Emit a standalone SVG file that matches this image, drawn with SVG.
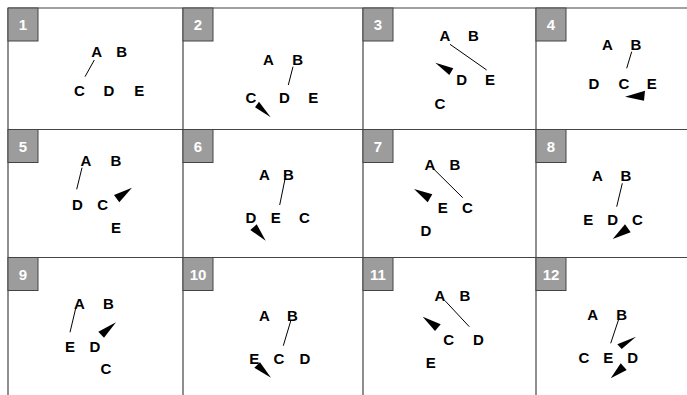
<svg xmlns="http://www.w3.org/2000/svg" width="687" height="395" viewBox="0 0 687 395">
<style>
.grid{stroke:#444;stroke-width:1.2;fill:none}
.tag{fill:#9c9c9c;stroke:#444;stroke-width:1}
.num{font-family:"Liberation Sans",Arial,sans-serif;font-weight:bold;font-size:15px;fill:#fff;text-anchor:middle}
.n{font-family:"Liberation Sans",Arial,sans-serif;font-weight:bold;font-size:15px;fill:#000;text-anchor:middle}
.e{stroke:#000;stroke-width:1;fill:none}
.t{fill:#000;stroke:none}
</style>
<rect width="687" height="395" fill="#fff"/>
<g id="grid">
<path class="grid" d="M8,8H687M8,129.5H687M8,257.5H687M8,8V395M183,8V395M363,8V395M536,8V395"/>
</g>
<g id="tags">
<g id="tag1"><rect class="tag" x="8" y="8" width="30" height="33"/><text class="num" x="23" y="30">1</text></g>
<g id="tag2"><rect class="tag" x="183" y="8" width="30" height="33"/><text class="num" x="198" y="30">2</text></g>
<g id="tag3"><rect class="tag" x="363" y="8" width="30" height="33"/><text class="num" x="378" y="30">3</text></g>
<g id="tag4"><rect class="tag" x="536" y="8" width="30" height="33"/><text class="num" x="551" y="30">4</text></g>
<g id="tag5"><rect class="tag" x="8" y="129.5" width="30" height="33"/><text class="num" x="23" y="151.5">5</text></g>
<g id="tag6"><rect class="tag" x="183" y="129.5" width="30" height="33"/><text class="num" x="198" y="151.5">6</text></g>
<g id="tag7"><rect class="tag" x="363" y="129.5" width="30" height="33"/><text class="num" x="378" y="151.5">7</text></g>
<g id="tag8"><rect class="tag" x="536" y="129.5" width="30" height="33"/><text class="num" x="551" y="151.5">8</text></g>
<g id="tag9"><rect class="tag" x="8" y="257.5" width="30" height="33"/><text class="num" x="23" y="279.5">9</text></g>
<g id="tag10"><rect class="tag" x="183" y="257.5" width="30" height="33"/><text class="num" x="198" y="279.5">10</text></g>
<g id="tag11"><rect class="tag" x="363" y="257.5" width="30" height="33"/><text class="num" x="378" y="279.5">11</text></g>
<g id="tag12"><rect class="tag" x="536" y="257.5" width="30" height="33"/><text class="num" x="551" y="279.5">12</text></g>
</g>
<g id="connectors">
<line class="e" x1="94.3" y1="60" x2="85" y2="76.7"/>
<line class="e" x1="293" y1="66.7" x2="288.3" y2="85"/>
<polygon class="t" points="255,107.3 259,101.7 270.7,117.3"/>
<line class="e" x1="450" y1="44.3" x2="486.7" y2="70"/>
<polygon class="t" points="435.3,62.7 453.3,68.3 449.3,75"/>
<line class="e" x1="631.7" y1="51.7" x2="626.7" y2="68.3"/>
<polygon class="t" points="625,96.7 645,90.7 644,100.7"/>
<line class="e" x1="82" y1="167.7" x2="76.7" y2="189.3"/>
<polygon class="t" points="114,195 132,187.7 119.3,202.3"/>
<line class="e" x1="285" y1="179" x2="279.7" y2="205"/>
<polygon class="t" points="250.3,230 256.7,224.3 265.7,240.7"/>
<line class="e" x1="434" y1="169.3" x2="462.7" y2="197.7"/>
<polygon class="t" points="414,189 432.3,194.3 427.7,202.3"/>
<line class="e" x1="622.3" y1="183.3" x2="616.7" y2="206.7"/>
<polygon class="t" points="612.7,239 625,224.3 630.7,232.3"/>
<line class="e" x1="75.7" y1="308.3" x2="70" y2="332.3"/>
<polygon class="t" points="98.3,331.7 116,322.3 104,337.7"/>
<line class="e" x1="291" y1="320" x2="283.3" y2="345.7"/>
<polygon class="t" points="254.3,367.7 260,362.3 271,377.7"/>
<line class="e" x1="445" y1="300.7" x2="469.3" y2="326.7"/>
<polygon class="t" points="422.7,316.7 440.7,324.3 435,331"/>
<line class="e" x1="619" y1="318.3" x2="610.7" y2="343.3"/>
<polygon class="t" points="617.3,344.3 636,336.7 621.7,349"/>
<polygon class="t" points="610.7,378.3 620.7,363.3 626.7,370"/>
</g>
<g id="p1A"><text class="n" x="96.7" y="57.3">A</text></g>
<g id="p1B"><text class="n" x="121.7" y="57.3">B</text></g>
<g id="p1C"><text class="n" x="79.3" y="96.2">C</text></g>
<g id="p1D"><text class="n" x="109" y="96.2">D</text></g>
<g id="p1E"><text class="n" x="139.3" y="96.2">E</text></g>
<g id="p2A"><text class="n" x="268.3" y="64.6">A</text></g>
<g id="p2B"><text class="n" x="297.7" y="64.6">B</text></g>
<g id="p2C"><text class="n" x="251" y="102.6">C</text></g>
<g id="p2D"><text class="n" x="284.3" y="102.6">D</text></g>
<g id="p2E"><text class="n" x="313.3" y="102.6">E</text></g>
<g id="p3A"><text class="n" x="445" y="41.3">A</text></g>
<g id="p3B"><text class="n" x="473.3" y="41.3">B</text></g>
<g id="p3D"><text class="n" x="461.7" y="85.3">D</text></g>
<g id="p3E"><text class="n" x="490" y="85.3">E</text></g>
<g id="p3C"><text class="n" x="440" y="108.6">C</text></g>
<g id="p4A"><text class="n" x="607.3" y="50.3">A</text></g>
<g id="p4B"><text class="n" x="636" y="50.3">B</text></g>
<g id="p4D"><text class="n" x="594" y="88.6">D</text></g>
<g id="p4C"><text class="n" x="624" y="88.6">C</text></g>
<g id="p4E"><text class="n" x="651.7" y="88.6">E</text></g>
<g id="p5A"><text class="n" x="86" y="166.3">A</text></g>
<g id="p5B"><text class="n" x="116" y="166.3">B</text></g>
<g id="p5D"><text class="n" x="77.3" y="210.3">D</text></g>
<g id="p5C"><text class="n" x="102.7" y="210.3">C</text></g>
<g id="p5E"><text class="n" x="116" y="233">E</text></g>
<g id="p6A"><text class="n" x="264.3" y="179.6">A</text></g>
<g id="p6B"><text class="n" x="288.3" y="179.6">B</text></g>
<g id="p6D"><text class="n" x="251" y="223">D</text></g>
<g id="p6E"><text class="n" x="275.7" y="223">E</text></g>
<g id="p6C"><text class="n" x="304.3" y="223">C</text></g>
<g id="p7A"><text class="n" x="430" y="169.6">A</text></g>
<g id="p7B"><text class="n" x="455" y="169.6">B</text></g>
<g id="p7E"><text class="n" x="442.7" y="213">E</text></g>
<g id="p7C"><text class="n" x="467.3" y="213">C</text></g>
<g id="p7D"><text class="n" x="426" y="236.3">D</text></g>
<g id="p8A"><text class="n" x="597.3" y="181">A</text></g>
<g id="p8B"><text class="n" x="626" y="181">B</text></g>
<g id="p8E"><text class="n" x="588.3" y="225.3">E</text></g>
<g id="p8D"><text class="n" x="612.7" y="225.3">D</text></g>
<g id="p8C"><text class="n" x="637.3" y="225.3">C</text></g>
<g id="p9A"><text class="n" x="79.3" y="308.6">A</text></g>
<g id="p9B"><text class="n" x="108.3" y="308.6">B</text></g>
<g id="p9E"><text class="n" x="70" y="352">E</text></g>
<g id="p9D"><text class="n" x="95" y="352">D</text></g>
<g id="p9C"><text class="n" x="106" y="374.3">C</text></g>
<g id="p10A"><text class="n" x="264.3" y="321">A</text></g>
<g id="p10B"><text class="n" x="292.3" y="321">B</text></g>
<g id="p10E"><text class="n" x="254.3" y="364.3">E</text></g>
<g id="p10C"><text class="n" x="279" y="364.3">C</text></g>
<g id="p10D"><text class="n" x="305" y="364.3">D</text></g>
<g id="p11A"><text class="n" x="440" y="301">A</text></g>
<g id="p11B"><text class="n" x="465" y="301">B</text></g>
<g id="p11C"><text class="n" x="448.7" y="345.3">C</text></g>
<g id="p11D"><text class="n" x="478.3" y="345.3">D</text></g>
<g id="p11E"><text class="n" x="430.7" y="367.6">E</text></g>
<g id="p12A"><text class="n" x="592.7" y="319.6">A</text></g>
<g id="p12B"><text class="n" x="621.7" y="319.6">B</text></g>
<g id="p12C"><text class="n" x="584" y="363">C</text></g>
<g id="p12E"><text class="n" x="608.3" y="363">E</text></g>
<g id="p12D"><text class="n" x="632.7" y="363">D</text></g>
</svg>
